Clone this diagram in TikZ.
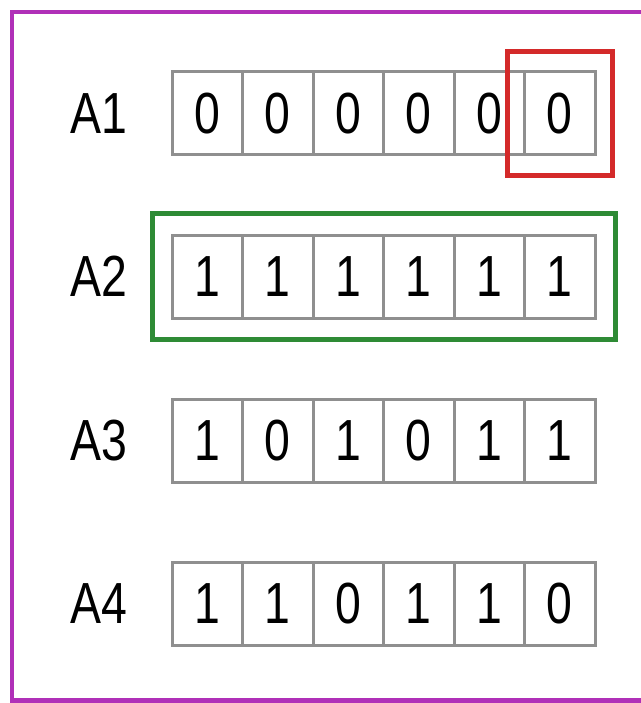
\documentclass[tikz,border=0pt]{standalone}
\usepackage{fontspec}
\setmainfont{Liberation Sans}[FakeStretch=0.8]
\usetikzlibrary{fit}
\definecolor{cellgray}{HTML}{8F8F8F}
\definecolor{framepurple}{HTML}{B030B8}
\definecolor{markred}{HTML}{D42A2A}
\definecolor{markgreen}{HTML}{2E8B35}
\begin{document}
\begin{tikzpicture}[x=1pt,y=-1pt,
  cell/.style={draw=cellgray, line width=3pt, minimum width=70.5pt, minimum height=83pt, inner sep=0pt, font=\fontsize{58}{58}\selectfont},
  lab/.style={inner sep=0pt, font=\fontsize{58}{58}\selectfont},
  redmark/.style={draw=markred, line width=5pt, inner sep=0pt},
  greenmark/.style={draw=markgreen, line width=5pt, inner sep=0pt},
  frame/.style={draw=framepurple, line width=4.5pt}]
\useasboundingbox (0,0) rectangle (640,703);
\draw[frame] (12,12) rectangle (648,700.5);
\foreach \r/\y/\bits in {1/113.5/{0,0,0,0,0,0},2/276.5/{1,1,1,1,1,1},3/440.5/{1,0,1,0,1,1},4/603.5/{1,1,0,1,1,0}}{
  \node[lab] (A\r) at (98.5,\y) {A\r};
  \foreach \b [count=\i] in \bits {
    \node[cell] (c\r-\i) at ({172+70.5*(\i-0.5)},\y) {\b};
  }
}
\node[redmark, fit=(c1-6), inner xsep=16pt, inner ysep=19pt] (red) {};
\node[greenmark, fit=(c2-1)(c2-6), inner xsep=18.5pt, inner ysep=20pt] (green) {};
\end{tikzpicture}
\end{document}
